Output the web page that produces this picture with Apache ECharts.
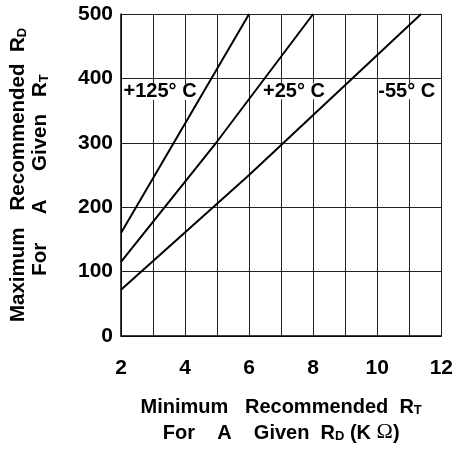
<!DOCTYPE html>
<html>
<head>
<meta charset="utf-8">
<script src="https://cdn.jsdelivr.net/npm/echarts@6/dist/echarts.min.js"></script>
<style>html,body{margin:0;padding:0;background:#fff}#c{width:456px;height:451px}</style>
</head>
<body>
<div id="c"></div>
<script>
// Data
var xTicks = [2, 4, 6, 8, 10, 12];
var yTicks = [0, 100, 200, 300, 400, 500];
var seriesNames = ['+125° C', '+25° C', '-55° C'];
var rt125 = [2, 4, 6.0];
var rd125 = [160, 330, 500];
var rt25 = [2, 5, 8.0];
var rd25 = [115, 302, 500];
var rtm55 = [2, 6, 11.37];
var rdm55 = [72, 250, 500];
var labelX = [3.22, 7.4, 10.92];
var labelY = [379, 380, 380];

var FONT = '"Liberation Sans", Arial, sans-serif';
var SERIF = '"Liberation Serif", "DejaVu Serif", serif';
function pairs(xs, ys) { return xs.map(function (x, i) { return [x, ys[i]]; }); }
var dataSets = [pairs(rt125, rd125), pairs(rt25, rd25), pairs(rtm55, rdm55)];

var chart = echarts.init(document.getElementById('c'), null, { renderer: 'canvas' });
function richFor(fs, subFs, lh) {
  return {
    a: { fontFamily: FONT, fontWeight: 'bold', fontSize: fs, color: '#000', lineHeight: lh, verticalAlign: 'bottom' },
    s: { fontFamily: FONT, fontWeight: 'bold', fontSize: subFs, color: '#000', lineHeight: lh - 3, verticalAlign: 'bottom' },
    o: { fontFamily: SERIF, fontWeight: 'normal', fontSize: fs + 2, color: '#000', lineHeight: lh, verticalAlign: 'bottom' }
  };
}
var option = {
  animation: false,
  backgroundColor: '#fff',
  grid: { left: 120.7, right: 12.7, top: 14, bottom: 115, containLabel: false },
  xAxis: {
    type: 'value', min: xTicks[0], max: xTicks[xTicks.length - 1], interval: 1,
    name: '{a|Minimum   Recommended  R}{s|T}\n{a|For    A    Given  R}{s|D}{a| (K }{o|Ω}{a|)}',
    nameLocation: 'middle', nameGap: 55,
    nameTextStyle: { rich: richFor(20, 13, 26) },
    axisLine: { show: true, lineStyle: { color: '#000', width: 1.5 } },
    axisTick: { show: false },
    splitLine: { show: true, lineStyle: { color: '#222', width: 1 } },
    axisLabel: {
      margin: 22, fontFamily: FONT, fontWeight: 'bold', fontSize: 21, color: '#000',
      formatter: function (v) { return xTicks.indexOf(v) >= 0 ? String(v) : ''; }
    }
  },
  yAxis: {
    type: 'value', min: yTicks[0], max: yTicks[yTicks.length - 1], interval: 100,
    name: '{a|Maximum   Recommended  R}{s|D}\n{a|For     A     Given   R}{s|T}',
    nameLocation: 'middle', nameGap: 70, nameRotate: 90,
    nameTextStyle: { rich: richFor(20.5, 13, 22) },
    axisLine: { show: true, lineStyle: { color: '#000', width: 1.5 } },
    axisTick: { show: false },
    splitLine: { show: true, lineStyle: { color: '#222', width: 1 } },
    axisLabel: { margin: 8, fontFamily: FONT, fontWeight: 'bold', fontSize: 21, color: '#000' }
  },
  series: seriesNames.map(function (n, i) {
    return {
      name: n, type: 'line', data: dataSets[i], showSymbol: false, smooth: false,
      lineStyle: { color: '#000', width: 2 },
      markPoint: {
        symbol: 'rect', symbolSize: 0,
        label: {
          show: true, position: 'inside', formatter: n,
          fontFamily: FONT, fontWeight: 'bold', fontSize: 20, lineHeight: 16, color: '#000',
          backgroundColor: '#fff', padding: [0, 0]
        },
        data: [{ coord: [labelX[i], labelY[i]] }]
      }
    };
  })
};
chart.setOption(option);
</script>
</body>
</html>
